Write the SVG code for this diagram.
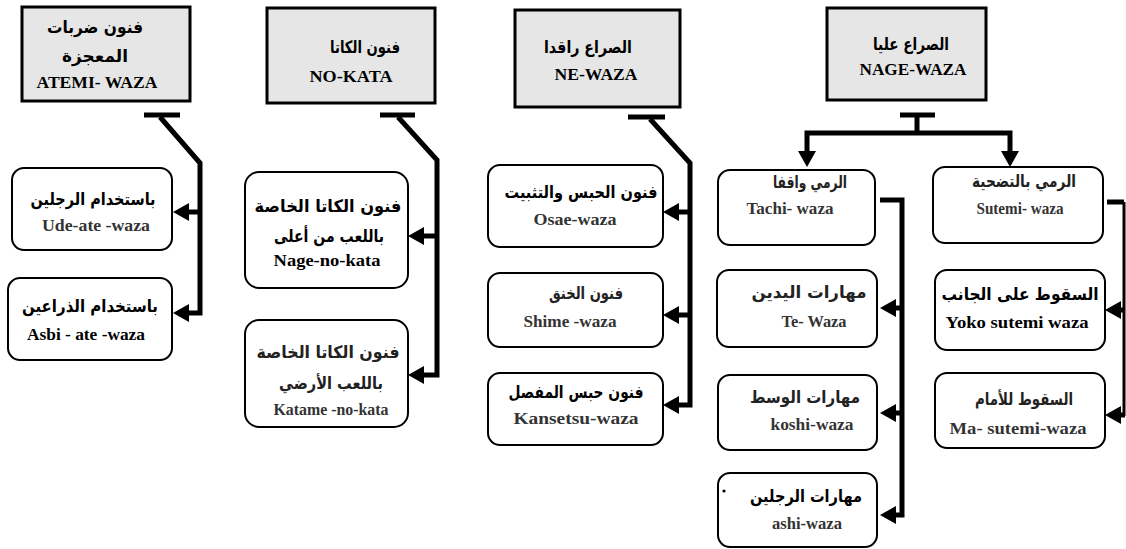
<svg xmlns="http://www.w3.org/2000/svg" width="1126" height="549" viewBox="0 0 1126 549">
<style>
.hdr{fill:#e6e6e6;stroke:#000;stroke-width:3}
.box{fill:#fff;stroke:#000;stroke-width:2}
.ar{font-family:"DejaVu Sans","Noto Sans",sans-serif;font-weight:bold;font-size:17px;fill:#000;text-anchor:middle}
.ar2{font-family:"DejaVu Sans","Noto Sans",sans-serif;font-weight:bold;font-size:17px;fill:#222;text-anchor:middle}
.en{font-family:"Liberation Serif",serif;font-weight:bold;font-size:16px;fill:#000;text-anchor:middle}
.en2{font-family:"Liberation Serif",serif;font-weight:bold;font-size:16px;fill:#333;text-anchor:middle}
.ln{fill:none;stroke:#000;stroke-width:5;stroke-linejoin:miter}
.ar-end{marker-end:url(#ah)}
</style>
<defs>
<marker id="ah" markerUnits="userSpaceOnUse" viewBox="0 -9 16 18" refX="0" refY="0" markerWidth="16" markerHeight="18" orient="auto">
<path d="M0,-9 L16,0 L0,9 z" fill="#000"/>
</marker>
</defs>
<rect width="1126" height="549" fill="#fff"/>

<g id="connectors">
<path class="ln" d="M144,115 L180,115"/>
<path class="ln ar-end" d="M160,117 L200,163 L200,313 L189,313"/>
<path class="ln ar-end" d="M200,212 L189,212"/>
<path class="ln" d="M380,115 L415,115"/>
<path class="ln ar-end" d="M398,117 L437,160 L437,375 L424,375"/>
<path class="ln ar-end" d="M437,236 L424,236"/>
<path class="ln" d="M628,117 L665,117"/>
<path class="ln ar-end" d="M650,119 L690,163 L690,405 L679,405"/>
<path class="ln ar-end" d="M690,212 L679,212"/>
<path class="ln ar-end" d="M690,315 L679,315"/>
<path class="ln" d="M900,115 L935,115"/>
<path class="ln" d="M917,115 L917,133"/>
<path class="ln ar-end" d="M917,133 L807,133 L807,151"/>
<path class="ln ar-end" d="M917,133 L1010,133 L1010,151"/>
<path class="ln ar-end" d="M880,200 L902,200 L902,515 L896,515"/>
<path class="ln ar-end" d="M902,308 L896,308"/>
<path class="ln ar-end" d="M902,413 L896,413"/>
<path class="ln" d="M1107,202 L1124,202"/>
<path fill="none" stroke="#000" stroke-width="3" d="M1124,202 L1124,416"/>
<path class="ln ar-end" d="M1125,310 L1121,310"/>
<path class="ln ar-end" d="M1125,415 L1121,415"/>
</g>

<g id="atemi-waza">
<rect class="hdr" x="22" y="7" width="168" height="94"/>
<text class="ar" x="95" y="33" textLength="96" lengthAdjust="spacingAndGlyphs">فنون ضربات</text>
<text class="ar" x="95" y="62" textLength="66" lengthAdjust="spacingAndGlyphs">المعجزة</text>
<text class="en" x="97" y="88" textLength="121" lengthAdjust="spacingAndGlyphs">ATEMI- WAZA</text>
</g>
<g id="no-kata">
<rect class="hdr" x="267" y="8" width="168" height="95"/>
<text class="ar" x="365" y="53" textLength="70" lengthAdjust="spacingAndGlyphs">فنون الكاتا</text>
<text class="en" x="351" y="82" textLength="83" lengthAdjust="spacingAndGlyphs">NO-KATA</text>
</g>
<g id="ne-waza">
<rect class="hdr" x="515" y="10" width="165" height="97"/>
<text class="ar" x="588" y="53" textLength="88" lengthAdjust="spacingAndGlyphs">الصراع راقدا</text>
<text class="en" x="596" y="80" textLength="83" lengthAdjust="spacingAndGlyphs">NE-WAZA</text>
</g>
<g id="nage-waza">
<rect class="hdr" x="827" y="8" width="159" height="92"/>
<text class="ar" x="911" y="50" textLength="76" lengthAdjust="spacingAndGlyphs">الصراع عليا</text>
<text class="en" x="913" y="75" textLength="107" lengthAdjust="spacingAndGlyphs">NAGE-WAZA</text>
</g>

<g id="ude-ate-waza">
<rect class="box" x="12" y="168" width="160" height="82" rx="12"/>
<text class="ar" x="93" y="205" textLength="125" lengthAdjust="spacingAndGlyphs">باستخدام الرجلين</text>
<text class="en2" x="96" y="231" textLength="108" lengthAdjust="spacingAndGlyphs">Ude-ate -waza</text>
</g>
<g id="asbi-ate-waza">
<rect class="box" x="8" y="278" width="164" height="82" rx="12"/>
<text class="ar" x="90" y="312" textLength="136" lengthAdjust="spacingAndGlyphs">باستخدام الذراعين</text>
<text class="en" x="86" y="340" textLength="118" lengthAdjust="spacingAndGlyphs">Asbi - ate -waza</text>
</g>

<g id="nage-no-kata">
<rect class="box" x="245" y="172" width="163" height="116" rx="14"/>
<text class="ar" x="328" y="212" textLength="147" lengthAdjust="spacingAndGlyphs">فنون الكاتا الخاصة</text>
<text class="ar" x="329" y="242" textLength="110" lengthAdjust="spacingAndGlyphs">باللعب من أعلى</text>
<text class="en" x="327" y="266" textLength="107" lengthAdjust="spacingAndGlyphs">Nage-no-kata</text>
</g>
<g id="katame-no-kata">
<rect class="box" x="245" y="320" width="163" height="107" rx="14"/>
<text class="ar2" x="328" y="358" textLength="143" lengthAdjust="spacingAndGlyphs">فنون الكاتا الخاصة</text>
<text class="ar2" x="331" y="389" textLength="104" lengthAdjust="spacingAndGlyphs">باللعب الأرضي</text>
<text class="en2" x="331" y="415" textLength="115" lengthAdjust="spacingAndGlyphs">Katame -no-kata</text>
</g>

<g id="osae-waza">
<rect class="box" x="488" y="165" width="175" height="82" rx="12"/>
<text class="ar" x="581" y="198" textLength="153" lengthAdjust="spacingAndGlyphs">فنون الحبس والتثبيت</text>
<text class="en2" x="575" y="225" textLength="83" lengthAdjust="spacingAndGlyphs">Osae-waza</text>
</g>
<g id="shime-waza">
<rect class="box" x="488" y="273" width="175" height="74" rx="12"/>
<text class="ar2" x="586" y="299" textLength="74" lengthAdjust="spacingAndGlyphs">فنون الخنق</text>
<text class="en2" x="570" y="327" textLength="93" lengthAdjust="spacingAndGlyphs">Shime -waza</text>
</g>
<g id="kansetsu-waza">
<rect class="box" x="488" y="373" width="175" height="72" rx="12"/>
<text class="ar" x="576" y="398" textLength="135" lengthAdjust="spacingAndGlyphs">فنون حبس المفصل</text>
<text class="en2" x="576" y="424" textLength="125" lengthAdjust="spacingAndGlyphs">Kansetsu-waza</text>
</g>

<g id="tachi-waza">
<rect class="box" x="718" y="170" width="157" height="75" rx="12"/>
<text class="ar2" x="810" y="188" textLength="74" lengthAdjust="spacingAndGlyphs">الرمي واقفا</text>
<text class="en2" x="790" y="214" textLength="87" lengthAdjust="spacingAndGlyphs">Tachi- waza</text>
</g>
<g id="sutemi-waza">
<rect class="box" x="933" y="167" width="170" height="76" rx="12"/>
<text class="ar2" x="1024" y="187" textLength="104" lengthAdjust="spacingAndGlyphs">الرمي بالتضحية</text>
<text class="en2" x="1020" y="214" textLength="87" lengthAdjust="spacingAndGlyphs">Sutemi- waza</text>
</g>
<g id="te-waza">
<rect class="box" x="717" y="270" width="160" height="77" rx="12"/>
<text class="ar2" x="809" y="298" textLength="115" lengthAdjust="spacingAndGlyphs">مهارات اليدين</text>
<text class="en2" x="814" y="327" textLength="65" lengthAdjust="spacingAndGlyphs">Te- Waza</text>
</g>
<g id="koshi-waza">
<rect class="box" x="718" y="375" width="159" height="75" rx="12"/>
<text class="ar2" x="805" y="403" textLength="110" lengthAdjust="spacingAndGlyphs">مهارات الوسط</text>
<text class="en2" x="812" y="430" textLength="83" lengthAdjust="spacingAndGlyphs">koshi-waza</text>
</g>
<g id="ashi-waza">
<rect class="box" x="718" y="473" width="159" height="74" rx="12"/>
<text class="ar" x="806" y="502" textLength="112" lengthAdjust="spacingAndGlyphs">مهارات الرجلين</text>
<text class="en2" x="807" y="529" textLength="70" lengthAdjust="spacingAndGlyphs">ashi-waza</text>
<circle cx="724" cy="491" r="1.6" fill="#000"/>
</g>
<g id="yoko-sutemi-waza">
<rect class="box" x="935" y="270" width="170" height="80" rx="12"/>
<text class="ar" x="1020" y="300" textLength="157" lengthAdjust="spacingAndGlyphs">السقوط على الجانب</text>
<text class="en" x="1017" y="328" textLength="143" lengthAdjust="spacingAndGlyphs">Yoko sutemi waza</text>
</g>
<g id="ma-sutemi-waza">
<rect class="box" x="935" y="373" width="170" height="75" rx="12"/>
<text class="ar2" x="1024" y="405" textLength="98" lengthAdjust="spacingAndGlyphs">السقوط للأمام</text>
<text class="en2" x="1018" y="434" textLength="137" lengthAdjust="spacingAndGlyphs">Ma- sutemi-waza</text>
</g>
</svg>
